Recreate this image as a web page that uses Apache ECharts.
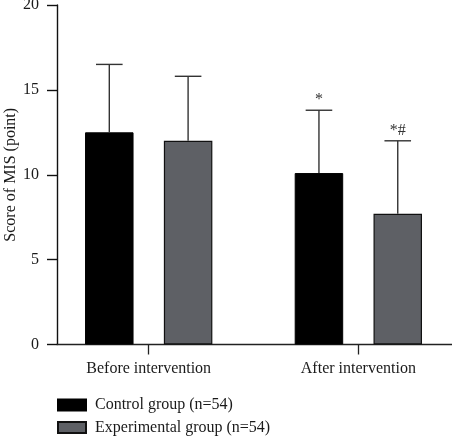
<!DOCTYPE html>
<html>
<head>
<meta charset="utf-8">
<script src="https://cdn.jsdelivr.net/npm/echarts@6/dist/echarts.min.js"></script>
<style>html,body{margin:0;padding:0;background:#fff;}#c{width:452px;height:436px;}</style>
</head>
<body>
<div id="c"></div>
<script>
const categories = ['Before intervention', 'After intervention'];
const seriesNames = ['Control group (n=54)', 'Experimental group (n=54)'];
const controlMean = [12.5, 10.1];
const controlSD = [4.0, 3.7];
const experimentalMean = [12.0, 7.7];
const experimentalSD = [3.8, 4.3];
const controlMarks = ['', '*'];
const experimentalMarks = ['', '*#'];
const yTicks = [0, 5, 10, 15, 20];

const FONT = '"Liberation Serif", "DejaVu Serif", serif';
const BAR_W = 48.5, GAP_PX = 30.3;
const OFFSET = (BAR_W + GAP_PX) / 2;
const LEFT_PAD = 0.4374;          // empty space before first category, in category units
const X_MAX = 1.8841;             // axis span, in category units
const catPos = categories.map((c, i) => i + LEFT_PAD);

function errSeries(means, sds, marks, sign) {
  return {
    type: 'custom',
    silent: true,
    z: 5,
    data: means.map((m, i) => [catPos[i], m, sds[i]]),
    renderItem: function (params, api) {
      const x = api.value(0), m = api.value(1), s = api.value(2);
      const mark = marks[params.dataIndex];
      const base = api.coord([x, m]);
      const top = api.coord([x, m + s]);
      const cx = base[0] + sign * OFFSET;
      const half = 13.3;
      const children = [
        {type: 'line', shape: {x1: cx, y1: base[1], x2: cx, y2: top[1]}, style: {stroke: '#333', lineWidth: 1.4}},
        {type: 'line', shape: {x1: cx - half, y1: top[1], x2: cx + half, y2: top[1]}, style: {stroke: '#333', lineWidth: 1.4}}
      ];
      if (mark) {
        children.push({type: 'text', style: {text: mark, x: cx, y: top[1] - 2, align: 'center', verticalAlign: 'bottom', font: '16px ' + FONT, fill: '#333'}});
      }
      return {type: 'group', children: children};
    }
  };
}

const chart = echarts.init(document.getElementById('c'), null, {renderer: 'canvas'});
chart.setOption({
  animation: false,
  backgroundColor: '#fff',
  textStyle: {fontFamily: FONT},
  grid: {left: 57, right: 0, top: 5, bottom: 91.5, containLabel: false, outerBoundsMode: 'none'},
  xAxis: {
    type: 'value',
    min: 0,
    max: X_MAX,
    splitLine: {show: false},
    axisLine: {show: true, lineStyle: {color: '#222', width: 1.3}},
    axisTick: {show: true, length: 10, customValues: catPos, lineStyle: {color: '#222', width: 1.3}},
    axisLabel: {
      show: true, margin: 16, customValues: catPos,
      formatter: v => categories[Math.round(v - LEFT_PAD)] || '',
      fontFamily: FONT, fontSize: 16, color: '#1a1a1a'
    }
  },
  yAxis: {
    type: 'value',
    min: 0, max: 20, interval: 5,
    name: 'Score of MIS (point)',
    nameLocation: 'middle',
    nameGap: 38,
    nameMoveOverlap: false,
    nameTextStyle: {fontFamily: FONT, fontSize: 16, color: '#1a1a1a'},
    splitLine: {show: false},
    axisLine: {show: true, lineStyle: {color: '#111', width: 1.4}},
    axisTick: {show: true, length: 10, lineStyle: {color: '#111', width: 1.4}},
    axisLabel: {margin: 7, padding: [0, 11, 0, 0], fontFamily: FONT, fontSize: 16, color: '#1a1a1a',
      formatter: v => yTicks.includes(v) ? String(v) : ''}
  },
  legend: {
    data: seriesNames,
    orient: 'vertical',
    left: 57, top: 397,
    padding: 0,
    itemWidth: 28, itemHeight: 11, itemGap: 6.5,
    icon: 'rect',
    textStyle: {fontFamily: FONT, fontSize: 16, color: '#1a1a1a', padding: [0, 0, 0, 4]},
    selectedMode: false
  },
  series: [
    {
      name: seriesNames[0], type: 'bar',
      data: controlMean.map((v, i) => [catPos[i], v]),
      barWidth: BAR_W, barGap: (GAP_PX / BAR_W * 100).toFixed(1) + '%',
      itemStyle: {color: '#000', borderColor: '#000', borderWidth: 1}
    },
    {
      name: seriesNames[1], type: 'bar',
      data: experimentalMean.map((v, i) => [catPos[i], v]),
      barWidth: BAR_W,
      itemStyle: {color: '#5e6065', borderColor: '#111', borderWidth: 1.2}
    },
    errSeries(controlMean, controlSD, controlMarks, -1),
    errSeries(experimentalMean, experimentalSD, experimentalMarks, 1)
  ]
});
</script>
</body>
</html>
